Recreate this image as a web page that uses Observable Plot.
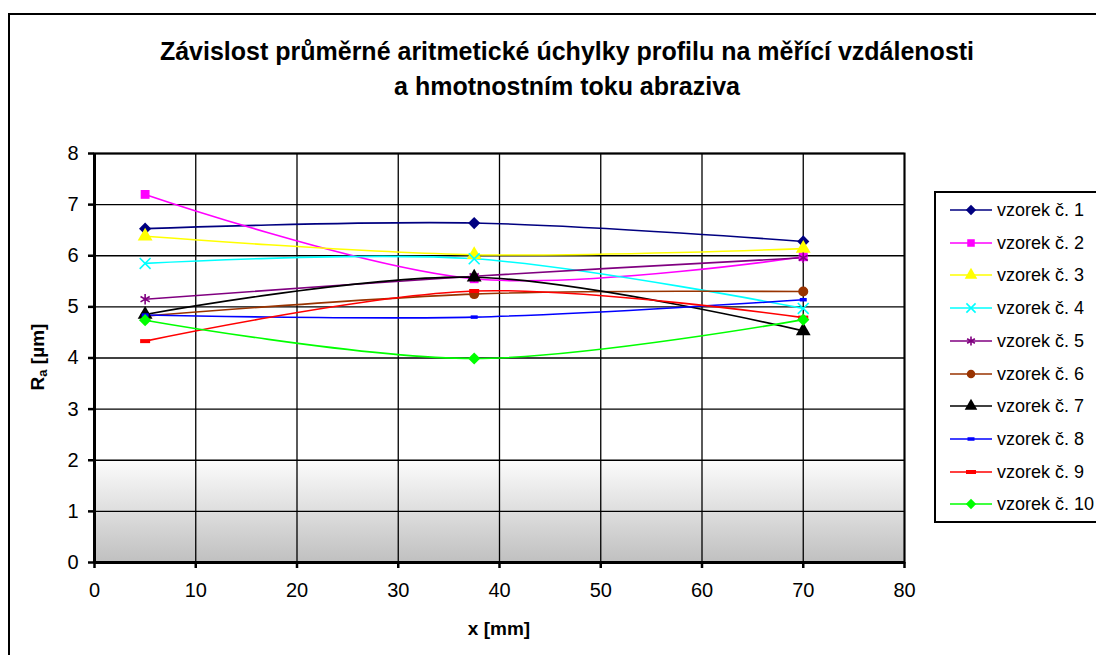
<!DOCTYPE html>
<html><head><meta charset="utf-8">
<script src="https://cdn.jsdelivr.net/npm/d3@7"></script>
<script src="https://cdn.jsdelivr.net/npm/@observablehq/plot@0.6"></script>
<style>
body{margin:0;background:#fff;font-family:"Liberation Sans",Arial,sans-serif;color:#000;}
#wrap{position:relative;width:1096px;height:655px;overflow:hidden;background:#fff;}
#border{position:absolute;left:8px;top:13px;width:1200px;height:700px;border:2px solid #000;box-sizing:border-box;}
#chart{position:absolute;left:0;top:0;}
#title{position:absolute;left:0;width:1134px;top:34px;text-align:center;font-weight:bold;font-size:25px;line-height:35px;}
#ylab{position:absolute;left:38px;top:357px;transform:translate(-50%,-50%) rotate(-90deg);font-weight:bold;font-size:19px;white-space:nowrap;}
#ylab sub{font-size:13px;vertical-align:-3px;}
#xlab{position:absolute;left:499px;top:618px;transform:translateX(-50%);font-weight:bold;font-size:19px;white-space:nowrap;}
#legend{position:absolute;left:934px;top:191px;width:200px;height:332px;border:2px solid #000;box-sizing:border-box;background:#fff;}
.lrow{position:absolute;left:0;height:24px;}
.lrow svg{position:absolute;left:0;top:0;}
.lrow span{position:absolute;left:61px;top:1px;font-size:18px;white-space:nowrap;line-height:22px;}
</style>
</head><body>
<div id="wrap">
  <div id="border"></div>
  <div id="chart"></div>
  <div id="title">Závislost průměrné aritmetické úchylky profilu na měřící vzdálenosti<br>a hmotnostním toku abraziva</div>
  <div id="ylab">R<sub>a</sub> [µm]</div>
  <div id="xlab">x [mm]</div>
  <div id="legend"></div>
</div>
<script>
// ---- data ----
const xValues = [5, 37.5, 70];
const seriesNames = ["vzorek č. 1","vzorek č. 2","vzorek č. 3","vzorek č. 4","vzorek č. 5","vzorek č. 6","vzorek č. 7","vzorek č. 8","vzorek č. 9","vzorek č. 10"];
const s1  = [6.53, 6.64, 6.28];
const s2  = [7.20, 5.55, 5.98];
const s3  = [6.38, 6.02, 6.14];
const s4  = [5.85, 5.94, 4.97];
const s5  = [5.15, 5.60, 5.96];
const s6  = [4.82, 5.25, 5.30];
const s7  = [4.85, 5.58, 4.53];
const s8  = [4.84, 4.80, 5.14];
const s9  = [4.33, 5.31, 4.79];
const s10 = [4.74, 3.99, 4.75];
const seriesValues = [s1, s2, s3, s4, s5, s6, s7, s8, s9, s10];
const xTicks = [0, 10, 20, 30, 40, 50, 60, 70, 80];
const yTicks = [0, 1, 2, 3, 4, 5, 6, 7, 8];
const shadeBand = [{x1: 0, x2: 80, y1: 0, y2: 2}];

// ---- styles ----
const colors = ["#000080","#FF00FF","#FFFF00","#00FFFF","#800080","#993300","#000000","#0000FF","#FF0000","#00FF00"];
const dashSmall = {draw(ctx){ ctx.rect(-3.5, -1.75, 7, 3.5); }};
const dashLarge = {draw(ctx){ ctx.rect(-5, -2, 10, 4); }};
const markers = [
  {symbol: "diamond2", filled: true, r: 5.5},
  {symbol: "square", filled: true, r: 5},
  {symbol: "triangle", filled: true, r: 5.5},
  {symbol: "times", filled: false, r: 5},
  {symbol: "asterisk", filled: false, r: 5},
  {symbol: "circle", filled: true, r: 5},
  {symbol: "triangle", filled: true, r: 5.5},
  {symbol: dashSmall, filled: true, r: 4},
  {symbol: dashLarge, filled: true, r: 5},
  {symbol: "diamond2", filled: true, r: 5.5}
];

const rows = [];
seriesNames.forEach((name, i) => {
  xValues.forEach((x, j) => rows.push({series: name, idx: i, x, y: seriesValues[i][j]}));
});

const marks = [
  Plot.rect(shadeBand, {x1: "x1", x2: "x2", y1: "y1", y2: "y2", fill: "url(#bgGrad)"}),
  Plot.gridX(xTicks.slice(1), {stroke: "#000", strokeOpacity: 1, strokeWidth: 1.3}),
  Plot.gridY(yTicks.slice(1), {stroke: "#000", strokeOpacity: 1, strokeWidth: 1.3}),
  Plot.frame({stroke: "#000", strokeWidth: 2}),
  Plot.ruleX([0], {stroke: "#000", strokeWidth: 3}),
  Plot.ruleY([0], {stroke: "#000", strokeWidth: 3}),
  Plot.axisX(xTicks, {tickSize: 6, tickPadding: 14, strokeWidth: 2.5, fontSize: 20, label: null, tickFormat: d => String(d)}),
  Plot.axisY(yTicks, {tickSize: 6, tickPadding: 10, strokeWidth: 2.5, fontSize: 20, label: null, tickFormat: d => String(d)})
];
seriesNames.forEach((name, i) => {
  const data = rows.filter(d => d.idx === i);
  marks.push(Plot.line(data, {x: "x", y: "y", stroke: colors[i], strokeWidth: 1.6, curve: "catmull-rom"}));
});
seriesNames.forEach((name, i) => {
  const data = rows.filter(d => d.idx === i);
  const m = markers[i];
  marks.push(Plot.dot(data, {
    x: "x", y: "y", symbol: m.symbol, r: m.r,
    fill: m.filled ? colors[i] : "none",
    stroke: m.filled ? "none" : colors[i],
    strokeWidth: 1.6
  }));
});

const svg = Plot.plot({
  width: 1096, height: 655,
  marginLeft: 94, marginRight: 192, marginTop: 153, marginBottom: 93,
  style: {fontFamily: "'Liberation Sans', Arial, sans-serif", fontSize: "20px", background: "transparent", color: "#000"},
  x: {domain: [0, 80]},
  y: {domain: [0, 8]},
  marks
});
const defs = d3.select(svg).insert("defs", ":first-child");
const grad = defs.append("linearGradient").attr("id", "bgGrad").attr("x1", 0).attr("y1", 0).attr("x2", 0).attr("y2", 1);
grad.append("stop").attr("offset", "0%").attr("stop-color", "#fcfcfc");
grad.append("stop").attr("offset", "100%").attr("stop-color", "#c0c0c0");
document.getElementById("chart").appendChild(svg);

// ---- legend ----
const legend = d3.select("#legend");
const symType = {diamond2: d3.symbolDiamond2, square: d3.symbolSquare, triangle: d3.symbolTriangle, times: d3.symbolTimes, asterisk: d3.symbolAsterisk, circle: d3.symbolCircle};
seriesNames.forEach((name, i) => {
  const cy = 210 + i * 32.7 - 193;
  const row = legend.append("div").attr("class", "lrow").style("top", (cy - 12) + "px").style("width", "200px");
  const s = row.append("svg").attr("width", 60).attr("height", 24);
  s.append("line").attr("x1", 14).attr("x2", 56).attr("y1", 12).attr("y2", 12).attr("stroke", colors[i]).attr("stroke-width", 1.6);
  const m = markers[i];
  const type = typeof m.symbol === "string" ? symType[m.symbol] : m.symbol;
  const r = m.r * 0.85;
  s.append("path").attr("transform", "translate(35,12)")
    .attr("d", d3.symbol().type(type).size(Math.PI * r * r)())
    .attr("fill", m.filled ? colors[i] : "none")
    .attr("stroke", m.filled ? "none" : colors[i])
    .attr("stroke-width", 1.6);
  row.append("span").text(name);
});
</script>
</body></html>
